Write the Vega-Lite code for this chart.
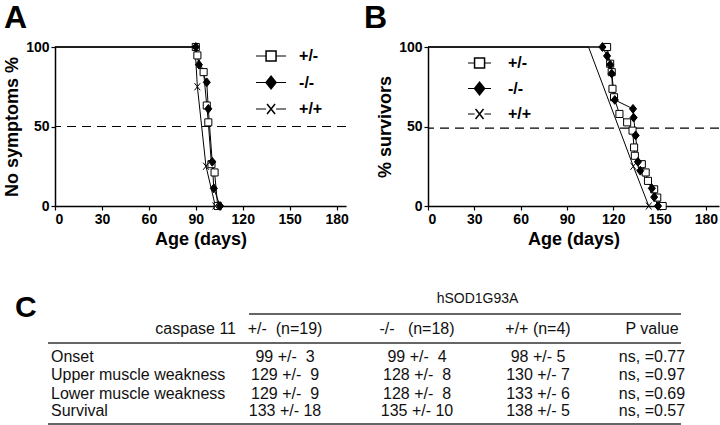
{
  "$schema": "https://vega.github.io/schema/vega-lite/v6.json",
  "autosize": {"type": "pad"},
  "padding": {"left": 3, "top": 2, "right": 0, "bottom": 0},
  "background": "white",
  "config": {
    "view": {"stroke": null},
    "font": "Liberation Sans",
    "axis": {
      "grid": false, "domainColor": "black", "domainWidth": 1.5, "tickColor": "black", "tickWidth": 1.2, "tickSize": 4,
      "labelFont": "Liberation Sans", "labelFontWeight": "bold", "labelFontSize": 14, "labelColor": "black", "labelPadding": 2,
      "titleFont": "Liberation Sans", "titleFontWeight": "bold", "titleFontSize": 18, "titleColor": "black", "titlePadding": 4
    },
    "title": {"font": "Liberation Sans", "fontWeight": "bold", "color": "black", "anchor": "start", "frame": "group"}
  },
  "datasets": {
    "curves": [
      {"panel": "A", "geno": "+/-", "day": 0, "pct": 100},
      {"panel": "A", "geno": "+/-", "day": 90, "pct": 100},
      {"panel": "A", "geno": "+/-", "day": 91, "pct": 94.7},
      {"panel": "A", "geno": "+/-", "day": 95, "pct": 84.2},
      {"panel": "A", "geno": "+/-", "day": 97, "pct": 63.2},
      {"panel": "A", "geno": "+/-", "day": 98, "pct": 52.6},
      {"panel": "A", "geno": "+/-", "day": 100, "pct": 26.3},
      {"panel": "A", "geno": "+/-", "day": 102, "pct": 21.1},
      {"panel": "A", "geno": "+/-", "day": 104, "pct": 0},
      {"panel": "A", "geno": "-/-", "day": 0, "pct": 100},
      {"panel": "A", "geno": "-/-", "day": 90, "pct": 100},
      {"panel": "A", "geno": "-/-", "day": 92, "pct": 88.9},
      {"panel": "A", "geno": "-/-", "day": 97, "pct": 77.8},
      {"panel": "A", "geno": "-/-", "day": 98, "pct": 61.1},
      {"panel": "A", "geno": "-/-", "day": 100.5, "pct": 27.8},
      {"panel": "A", "geno": "-/-", "day": 101.5, "pct": 11.1},
      {"panel": "A", "geno": "-/-", "day": 105.5, "pct": 0},
      {"panel": "A", "geno": "+/+", "day": 0, "pct": 100},
      {"panel": "A", "geno": "+/+", "day": 89.5, "pct": 100},
      {"panel": "A", "geno": "+/+", "day": 91, "pct": 75},
      {"panel": "A", "geno": "+/+", "day": 96.5, "pct": 25},
      {"panel": "A", "geno": "+/+", "day": 102.5, "pct": 0},
      {"panel": "B", "geno": "+/-", "day": 0, "pct": 100},
      {"panel": "B", "geno": "+/-", "day": 116, "pct": 100},
      {"panel": "B", "geno": "+/-", "day": 118, "pct": 89.5},
      {"panel": "B", "geno": "+/-", "day": 119, "pct": 84.2},
      {"panel": "B", "geno": "+/-", "day": 119.5, "pct": 73.7},
      {"panel": "B", "geno": "+/-", "day": 120.5, "pct": 68.4},
      {"panel": "B", "geno": "+/-", "day": 124, "pct": 57.9},
      {"panel": "B", "geno": "+/-", "day": 129, "pct": 52.6},
      {"panel": "B", "geno": "+/-", "day": 132.5, "pct": 47.4},
      {"panel": "B", "geno": "+/-", "day": 133.5, "pct": 36.8},
      {"panel": "B", "geno": "+/-", "day": 134, "pct": 31.6},
      {"panel": "B", "geno": "+/-", "day": 138.5, "pct": 26.3},
      {"panel": "B", "geno": "+/-", "day": 141, "pct": 21.1},
      {"panel": "B", "geno": "+/-", "day": 142.5, "pct": 15.8},
      {"panel": "B", "geno": "+/-", "day": 146.5, "pct": 10.5},
      {"panel": "B", "geno": "+/-", "day": 148.5, "pct": 5.3},
      {"panel": "B", "geno": "+/-", "day": 152, "pct": 0},
      {"panel": "B", "geno": "-/-", "day": 0, "pct": 100},
      {"panel": "B", "geno": "-/-", "day": 113, "pct": 100},
      {"panel": "B", "geno": "-/-", "day": 116, "pct": 94.4},
      {"panel": "B", "geno": "-/-", "day": 118, "pct": 88.9},
      {"panel": "B", "geno": "-/-", "day": 119, "pct": 83.3},
      {"panel": "B", "geno": "-/-", "day": 121, "pct": 66.7},
      {"panel": "B", "geno": "-/-", "day": 132.8, "pct": 61.1},
      {"panel": "B", "geno": "-/-", "day": 133.2, "pct": 55.6},
      {"panel": "B", "geno": "-/-", "day": 134.5, "pct": 44.4},
      {"panel": "B", "geno": "-/-", "day": 136, "pct": 27.8},
      {"panel": "B", "geno": "-/-", "day": 137.5, "pct": 22.2},
      {"panel": "B", "geno": "-/-", "day": 145, "pct": 11.1},
      {"panel": "B", "geno": "-/-", "day": 146.5, "pct": 5.6},
      {"panel": "B", "geno": "-/-", "day": 149, "pct": 0},
      {"panel": "B", "geno": "+/+", "day": 0, "pct": 100},
      {"panel": "B", "geno": "+/+", "day": 104, "pct": 100},
      {"panel": "B", "geno": "+/+", "day": 133, "pct": 25},
      {"panel": "B", "geno": "+/+", "day": 143, "pct": 0}
    ],
    "genos": [{"geno": "+/-"}, {"geno": "-/-"}, {"geno": "+/+"}],
    "tcells": [
      {"r": 0, "c": 4.5, "t": "hSOD1G93A"},
      {"r": 1, "c": 2, "t": "caspase 11"},
      {"r": 1, "c": 3, "t": "+/-\u00a0 (n=19)"},
      {"r": 1, "c": 4, "t": "-/-\u00a0\u00a0 (n=18)"},
      {"r": 1, "c": 5, "t": "+/+ (n=4)"},
      {"r": 1, "c": 6, "t": "P value"},
      {"r": 2, "c": 1, "t": "Onset"},
      {"r": 2, "c": 3, "t": "99 +/-\u00a0 3"},
      {"r": 2, "c": 4, "t": "99 +/-\u00a0 4"},
      {"r": 2, "c": 5, "t": "98 +/- 5"},
      {"r": 2, "c": 6, "t": "ns, =0.77"},
      {"r": 3, "c": 1, "t": "Upper muscle weakness"},
      {"r": 3, "c": 3, "t": "129 +/-\u00a0 9"},
      {"r": 3, "c": 4, "t": "128 +/-\u00a0 8"},
      {"r": 3, "c": 5, "t": "130 +/- 7"},
      {"r": 3, "c": 6, "t": "ns, =0.97"},
      {"r": 4, "c": 1, "t": "Lower muscle weakness"},
      {"r": 4, "c": 3, "t": "129 +/-\u00a0 9"},
      {"r": 4, "c": 4, "t": "128 +/-\u00a0 8"},
      {"r": 4, "c": 5, "t": "133 +/- 6"},
      {"r": 4, "c": 6, "t": "ns, =0.69"},
      {"r": 5, "c": 1, "t": "Survival"},
      {"r": 5, "c": 3, "t": "133 +/- 18"},
      {"r": 5, "c": 4, "t": "135 +/- 10"},
      {"r": 5, "c": 5, "t": "138 +/- 5"},
      {"r": 5, "c": 6, "t": "ns, =0.57"}
    ],
    "tlines": [
      {"r": 0.5, "c1": 2.5, "c2": 7},
      {"r": 1.5, "c1": 0, "c2": 7},
      {"r": 5.5, "c1": 0, "c2": 7}
    ]
  },
  "bounds": "flush",
  "spacing": 239,
  "vconcat": [
    {
      "bounds": "flush",
      "spacing": 82,
      "hconcat": [
        {
          "width": 291, "height": 159,
          "title": {"text": "A", "fontSize": 32, "dx": -51, "offset": 19, "dy": 39, "baseline": "alphabetic"},
          "resolve": {"scale": {"y": "independent"}},
          "layer": [
            {
              "layer": [
                {
                  "data": {"values": [{"level": 50}]},
                  "mark": {"type": "rule", "color": "black", "strokeWidth": 1.2, "strokeDash": [9, 6]},
                  "encoding": {"y": {"field": "level", "type": "quantitative", "title": "No symptoms %", "scale": {"domain": [0, 100], "nice": false}}}
                },
                {
                  "data": {"name": "curves"},
                  "transform": [{"filter": "datum.panel === 'A'"}],
                  "mark": {"type": "line", "color": "black", "strokeWidth": 1},
                  "encoding": {
                    "x": {"field": "day", "type": "quantitative", "title": "Age (days)", "scale": {"domain": [0, 186], "nice": false}, "axis": {"values": [0, 30, 60, 90, 120, 150, 180]}},
                    "y": {"field": "pct", "type": "quantitative", "title": "No symptoms %", "scale": {"domain": [0, 100], "nice": false}, "axis": {"values": [0, 25, 50, 75, 100]}},
                    "detail": {"field": "geno"}
                  }
                },
                {
                  "data": {"name": "curves"},
                  "transform": [{"filter": "datum.panel === 'A' && datum.day > 0 && !(datum.geno === '+/+' && datum.pct === 100)"}],
                  "mark": {"type": "point", "stroke": "black", "strokeWidth": 1, "opacity": 1, "size": 50},
                  "encoding": {
                    "x": {"field": "day", "type": "quantitative", "title": "Age (days)"},
                    "y": {"field": "pct", "type": "quantitative", "title": "No symptoms %"},
                    "shape": {"field": "geno", "type": "nominal", "legend": null,
                      "scale": {"domain": ["+/-", "-/-", "+/+"], "range": ["M-1,-1H1V1H-1Z", "M0,-1.25L1,0L0,1.25L-1,0Z", "M-0.8,-1L0.8,1M0.8,-1L-0.8,1"]}},
                    "fill": {"field": "geno", "type": "nominal", "legend": null,
                      "scale": {"domain": ["+/-", "-/-", "+/+"], "range": ["white", "black", "transparent"]}}
                  }
                }
              ]
            },
            {
              "data": {"name": "genos"},
              "layer": [
                {
                  "mark": {"type": "rule", "color": "black", "strokeWidth": 1},
                  "encoding": {
                    "x": {"datum": 128.5}, "x2": {"datum": 134.9},
                    "y": {"field": "geno", "type": "nominal", "axis": null, "scale": {"type": "point", "domain": ["+/-", "-/-", "+/+"], "range": [9, 62], "padding": 0}}
                  }
                },
                {
                  "mark": {"type": "rule", "color": "black", "strokeWidth": 1},
                  "encoding": {
                    "x": {"datum": 141.3}, "x2": {"datum": 147.7},
                    "y": {"field": "geno", "type": "nominal", "axis": null}
                  }
                },
                {
                  "mark": {"type": "point", "stroke": "black", "strokeWidth": 1.5, "opacity": 1, "size": 100},
                  "encoding": {
                    "x": {"datum": 138.1},
                    "y": {"field": "geno", "type": "nominal", "axis": null},
                    "shape": {"field": "geno", "type": "nominal", "legend": null},
                    "fill": {"field": "geno", "type": "nominal", "legend": null}
                  }
                },
                {
                  "mark": {"type": "text", "align": "left", "baseline": "middle", "fontSize": 16, "fontWeight": "bold", "font": "Liberation Sans", "color": "black"},
                  "encoding": {
                    "x": {"datum": 156},
                    "y": {"field": "geno", "type": "nominal", "axis": null},
                    "text": {"field": "geno"}
                  }
                }
              ]
            }
          ]
        },
        {
          "width": 291, "height": 159,
          "title": {"text": "B", "fontSize": 32, "dx": -64, "offset": 19, "dy": 39, "baseline": "alphabetic"},
          "resolve": {"scale": {"y": "independent"}},
          "layer": [
            {
              "layer": [
                {
                  "data": {"values": [{"level": 49}]},
                  "mark": {"type": "rule", "color": "black", "strokeWidth": 1.2, "strokeDash": [9, 6]},
                  "encoding": {"y": {"field": "level", "type": "quantitative", "title": "% survivors", "scale": {"domain": [0, 100], "nice": false}}}
                },
                {
                  "data": {"name": "curves"},
                  "transform": [{"filter": "datum.panel === 'B'"}],
                  "mark": {"type": "line", "color": "black", "strokeWidth": 1},
                  "encoding": {
                    "x": {"field": "day", "type": "quantitative", "title": "Age (days)", "scale": {"domain": [0, 188.5], "nice": false}, "axis": {"values": [0, 30, 60, 90, 120, 150, 180]}},
                    "y": {"field": "pct", "type": "quantitative", "title": "% survivors", "scale": {"domain": [0, 100], "nice": false}, "axis": {"values": [0, 25, 50, 75, 100]}},
                    "detail": {"field": "geno"}
                  }
                },
                {
                  "data": {"name": "curves"},
                  "transform": [{"filter": "datum.panel === 'B' && datum.day > 0 && !(datum.geno === '+/+' && datum.pct === 100)"}],
                  "mark": {"type": "point", "stroke": "black", "strokeWidth": 1, "opacity": 1, "size": 50},
                  "encoding": {
                    "x": {"field": "day", "type": "quantitative", "title": "Age (days)"},
                    "y": {"field": "pct", "type": "quantitative", "title": "% survivors"},
                    "shape": {"field": "geno", "type": "nominal", "legend": null,
                      "scale": {"domain": ["+/-", "-/-", "+/+"], "range": ["M-1,-1H1V1H-1Z", "M0,-1.25L1,0L0,1.25L-1,0Z", "M-0.8,-1L0.8,1M0.8,-1L-0.8,1"]}},
                    "fill": {"field": "geno", "type": "nominal", "legend": null,
                      "scale": {"domain": ["+/-", "-/-", "+/+"], "range": ["white", "black", "transparent"]}}
                  }
                }
              ]
            },
            {
              "data": {"name": "genos"},
              "layer": [
                {
                  "mark": {"type": "rule", "color": "black", "strokeWidth": 1},
                  "encoding": {
                    "x": {"datum": 25.9}, "x2": {"datum": 30.2},
                    "y": {"field": "geno", "type": "nominal", "axis": null, "scale": {"type": "point", "domain": ["+/-", "-/-", "+/+"], "range": [16, 67], "padding": 0}}
                  }
                },
                {
                  "mark": {"type": "rule", "color": "black", "strokeWidth": 1},
                  "encoding": {
                    "x": {"datum": 36.6}, "x2": {"datum": 40.8},
                    "y": {"field": "geno", "type": "nominal", "axis": null}
                  }
                },
                {
                  "mark": {"type": "point", "stroke": "black", "strokeWidth": 1.5, "opacity": 1, "size": 100},
                  "encoding": {
                    "x": {"datum": 33.4},
                    "y": {"field": "geno", "type": "nominal", "axis": null},
                    "shape": {"field": "geno", "type": "nominal", "legend": null},
                    "fill": {"field": "geno", "type": "nominal", "legend": null}
                  }
                },
                {
                  "mark": {"type": "text", "align": "left", "baseline": "middle", "fontSize": 16, "fontWeight": "bold", "font": "Liberation Sans", "color": "black"},
                  "encoding": {
                    "x": {"datum": 51.8},
                    "y": {"field": "geno", "type": "nominal", "axis": null},
                    "text": {"field": "geno"}
                  }
                }
              ]
            }
          ]
        }
      ]
    },
    {
      "width": 626, "height": 140,
      "title": {"text": "C", "fontSize": 30, "dx": -40, "offset": 0, "dy": 61, "baseline": "alphabetic"},
      "layer": [
        {
          "data": {"name": "tlines"},
          "mark": {"type": "rule", "color": "#333333", "strokeWidth": 1.5},
          "encoding": {
            "x": {"field": "c1", "type": "quantitative", "axis": null, "scale": {"type": "linear", "domain": [0, 1, 2, 2.5, 3, 4, 5, 6, 7], "range": [-7, -4, 181, 194, 230, 362, 483, 597, 626], "nice": false, "zero": false}},
            "x2": {"field": "c2"},
            "y": {"field": "r", "type": "quantitative", "axis": null, "scale": {"type": "linear", "domain": [0, 0.5, 1, 1.5, 2, 3, 4, 5, 5.5], "range": [13, 28, 43, 57, 71, 89, 108, 125, 138], "nice": false, "zero": false}}
          }
        },
        {
          "data": {"name": "tcells"},
          "transform": [{"filter": "datum.c === 1"}],
          "mark": {"type": "text", "align": "left", "baseline": "middle", "fontSize": 16, "font": "Liberation Sans", "color": "#111111"},
          "encoding": {
            "x": {"field": "c", "type": "quantitative", "axis": null},
            "y": {"field": "r", "type": "quantitative", "axis": null},
            "text": {"field": "t"}
          }
        },
        {
          "data": {"name": "tcells"},
          "transform": [{"filter": "datum.c === 2"}],
          "mark": {"type": "text", "align": "right", "baseline": "middle", "fontSize": 16, "font": "Liberation Sans", "color": "#111111"},
          "encoding": {
            "x": {"field": "c", "type": "quantitative", "axis": null},
            "y": {"field": "r", "type": "quantitative", "axis": null},
            "text": {"field": "t"}
          }
        },
        {
          "data": {"name": "tcells"},
          "transform": [{"filter": "datum.c > 2 && datum.r > 0"}],
          "mark": {"type": "text", "align": "center", "baseline": "middle", "fontSize": 16, "font": "Liberation Sans", "color": "#111111"},
          "encoding": {
            "x": {"field": "c", "type": "quantitative", "axis": null},
            "y": {"field": "r", "type": "quantitative", "axis": null},
            "text": {"field": "t"}
          }
        },
        {
          "data": {"name": "tcells"},
          "transform": [{"filter": "datum.r === 0"}],
          "mark": {"type": "text", "align": "center", "baseline": "middle", "fontSize": 14, "font": "Liberation Sans", "color": "#111111"},
          "encoding": {
            "x": {"field": "c", "type": "quantitative", "axis": null},
            "y": {"field": "r", "type": "quantitative", "axis": null},
            "text": {"field": "t"}
          }
        }
      ]
    }
  ]
}
